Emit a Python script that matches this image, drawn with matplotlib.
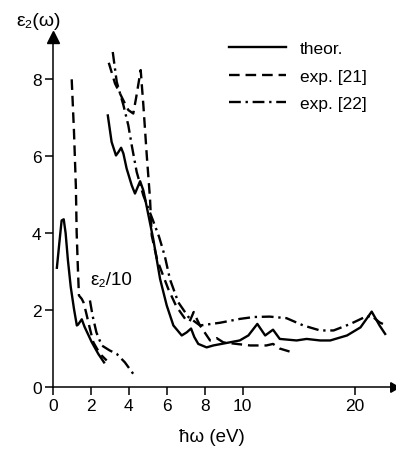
import numpy as np
import matplotlib
matplotlib.use("Agg")
import matplotlib.pyplot as plt

plt.rcParams['font.family'] = ['Liberation Sans', 'DejaVu Sans']

# low-energy part (plotted as eps2/10)
theor_lo_x = [0.22, 0.35, 0.47, 0.58, 0.68, 0.80, 0.95, 1.12, 1.27, 1.33, 1.53, 1.68, 2.05, 2.40, 2.70]
theor_lo_y = [3.10, 3.75, 4.33, 4.36, 4.00, 3.30, 2.60, 2.03, 1.60, 1.62, 1.76, 1.56, 1.17, 0.86, 0.64]
exp21_lo_x = [1.00, 1.12, 1.22, 1.26, 1.32, 1.38, 1.53, 1.62, 1.75, 1.96, 2.14, 2.49, 2.84]
exp21_lo_y = [8.00, 6.64, 5.20, 4.03, 3.16, 2.38, 2.29, 2.20, 1.95, 1.51, 1.16, 0.86, 0.69]
exp22_lo_x = [1.96, 2.10, 2.30, 2.58, 3.00, 3.37, 3.80, 4.24]
exp22_lo_y = [2.25, 1.85, 1.42, 1.08, 0.95, 0.86, 0.64, 0.34]

# high-energy part
theor_hi_x = [2.90, 3.10, 3.33, 3.46, 3.60, 3.72, 3.89, 4.16, 4.33, 4.60, 4.77, 4.86, 5.29, 5.65, 6.00,
              6.35, 6.79, 7.05, 7.28, 7.45, 7.66, 8.10, 8.45, 9.84, 10.5, 11.3, 12.0, 12.7, 13.3,
              14.8, 15.7, 16.9, 17.8, 19.3, 20.5, 21.5, 22.2, 22.7]
theor_hi_y = [7.06, 6.37, 6.02, 6.11, 6.22, 6.07, 5.68, 5.24, 5.03, 5.35, 5.11, 4.90, 3.85, 2.81, 2.12,
              1.60, 1.34, 1.42, 1.52, 1.30, 1.12, 1.03, 1.08, 1.21, 1.34, 1.64, 1.34, 1.49, 1.25,
              1.21, 1.25, 1.21, 1.21, 1.34, 1.55, 1.96, 1.60, 1.38]
exp21_hi_x = [2.95, 3.28, 3.72, 3.98, 4.24, 4.40, 4.63, 4.77, 4.95, 5.12, 5.21, 5.50, 6.08, 6.50,
              7.00, 7.20, 7.42, 7.60, 7.75, 8.28, 8.63, 8.98, 9.68, 10.65, 12.1, 12.7, 13.3, 14.2]
exp21_hi_y = [8.43, 7.89, 7.45, 7.20, 7.11, 7.55, 8.24, 7.33, 6.02, 4.90, 3.94, 3.30, 2.55, 2.10,
              1.75, 1.70, 1.95, 1.75, 1.60, 1.21, 1.27, 1.16, 1.12, 1.08, 1.08, 1.12, 1.00, 0.92]
exp22_hi_x = [3.16, 3.37, 3.72, 3.98, 4.16, 4.42, 4.77, 5.30, 5.60, 5.90, 6.17, 6.61, 7.14, 7.75,
              8.8, 9.84, 11.0, 12.4, 13.9, 15.4, 16.9, 18.1, 19.6, 20.9, 21.5, 22.2, 22.5]
exp22_hi_y = [8.71, 7.93, 7.33, 6.80, 6.28, 5.59, 4.98, 4.30, 3.90, 3.40, 2.80, 2.20, 1.82, 1.60,
              1.67, 1.77, 1.82, 1.83, 1.79, 1.60, 1.47, 1.47, 1.64, 1.82, 1.85, 1.68, 1.64]

xticks = [0, 2, 4, 6, 8, 10, 20]
yticks = [0, 2, 4, 6, 8]
labels = ["theor.", "exp. [21]", "exp. [22]"]

# axis is compressed above 10 eV
r = 0.59
def fwd(x):
    x = np.asarray(x, dtype=float)
    return np.where(x <= 10, x, 10 + (x - 10) * r)

def inv(x):
    x = np.asarray(x, dtype=float)
    return np.where(x <= 10, x, 10 + (x - 10) / r)

fig = plt.figure(figsize=(3.96, 4.56), dpi=100)
ax = fig.add_axes([52.7 / 396, 68 / 456, (393 - 52.7) / 396, (388 - 38) / 456])
ax.set_xscale('function', functions=(fwd, inv))

lw = 1.7
dash = (0, (4.5, 2.5))
dashdot = (0, (5, 2, 1, 2))
ax.plot(theor_hi_x, theor_hi_y, color='black', lw=lw, ls='-', label=labels[0])
ax.plot(exp21_hi_x, exp21_hi_y, color='black', lw=lw, ls=dash, label=labels[1])
ax.plot(exp22_hi_x, exp22_hi_y, color='black', lw=lw, ls=dashdot, label=labels[2])
ax.plot(theor_lo_x, theor_lo_y, color='black', lw=lw, ls='-')
ax.plot(exp21_lo_x, exp21_lo_y, color='black', lw=lw, ls=dash)
ax.plot(exp22_lo_x, exp22_lo_y, color='black', lw=lw, ls=dashdot)

ax.set_xlim(0, 23.4)
ax.set_ylim(0, 9.1)
ax.set_xticks(xticks)
ax.set_yticks(yticks)
ax.xaxis.set_minor_locator(matplotlib.ticker.NullLocator())
ax.tick_params(direction='out', length=6, width=1.1, labelsize=12.5, pad=2)
for s in ['top', 'right']:
    ax.spines[s].set_visible(False)
for s in ['left', 'bottom']:
    ax.spines[s].set_linewidth(1.1)

# arrow heads on axes
ax.plot(1, 0, marker=(3, 0, -90), ms=8, color='black', transform=ax.transAxes, clip_on=False)
ax.plot(0, 1, marker='^', ms=8, color='black', transform=ax.transAxes, clip_on=False)

fig.text(39 / 396, 1 - 21 / 456, "ε₂(ω)", fontsize=14, ha='center', va='center')
fig.text(212 / 396, 1 - 438 / 456, "ħω (eV)", fontsize=13.5, ha='center', va='center')
ax.text(1.96, 2.79, "ε₂/10", fontsize=13.5, ha='left', va='center')

ax.legend(loc='upper left', bbox_to_anchor=(229 / 396, 1 - 42 / 456), bbox_transform=fig.transFigure,
          frameon=False, fontsize=12.5, handlelength=3.3, handletextpad=0.8, labelspacing=0.72,
          borderpad=0, borderaxespad=0)

fig.savefig("out.png", dpi=100)
